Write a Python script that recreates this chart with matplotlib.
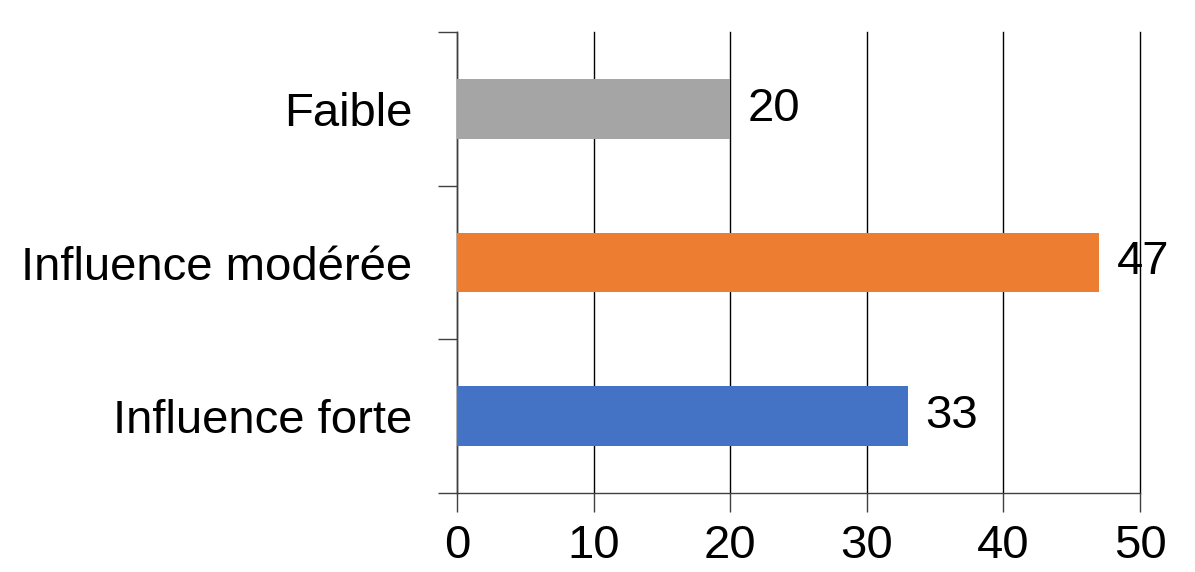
import matplotlib.pyplot as plt

categories = ["Influence forte", "Influence modérée", "Faible"]
values = [33, 47, 20]
colors = ["#4472C4", "#ED7D31", "#A5A5A5"]
xticks = [0, 10, 20, 30, 40, 50]

plt.rcParams["font.family"] = ["Liberation Sans", "DejaVu Sans"]

fig = plt.figure(figsize=(11.95, 5.72), dpi=100)
ax = fig.add_axes([457 / 1195, 79 / 572, 683 / 1195, 461 / 572])

pos = range(len(categories))
bars = ax.barh(pos, values, height=0.39, color=colors, zorder=3)

for bar, v in zip(bars, values):
    ax.text(bar.get_width() + 1.3, bar.get_y() + bar.get_height() / 2, str(v),
            va="center", ha="left", fontsize=34, zorder=4)

ax.set_xlim(0, 50)
ax.set_ylim(-0.5, len(categories) - 0.5)
ax.set_xticks(xticks)
ax.set_xticklabels([str(t) for t in xticks], fontsize=34)
ax.set_yticks(list(pos))
ax.set_yticklabels(categories, fontsize=34)
ax.set_yticks([-0.5, 0.5, 1.5, 2.5], minor=True)

ax.grid(axis="x", color="black", linewidth=1, zorder=0)
for line in ax.xaxis.get_gridlines():
    line.set_clip_on(False)
for s in ["top", "right"]:
    ax.spines[s].set_visible(False)
for s in ["left", "bottom"]:
    ax.spines[s].set_linewidth(1)
    ax.spines[s].set_color("#404040")
ax.tick_params(axis="y", which="major", length=0, pad=32)
ax.tick_params(axis="y", which="minor", length=14, width=1, color="#404040")
ax.tick_params(axis="x", length=14, width=1, pad=8, color="#404040")

fig.savefig("out.png", dpi=100)
